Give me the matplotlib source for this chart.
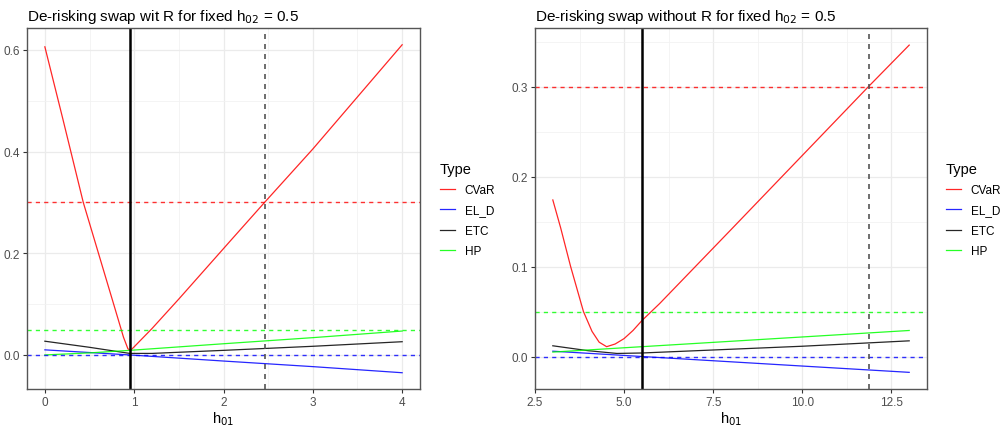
import numpy as np
import matplotlib
matplotlib.rcParams["font.family"] = ["Liberation Sans", "DejaVu Sans"]
import matplotlib.pyplot as plt
from matplotlib.ticker import MultipleLocator, FormatStrFormatter

# left panel: swap with R, h02 = 0.5
l_cvar_x = [0, 0.2, 0.43, 0.6, 0.77, 0.88, 0.93, 0.96, 1.0, 1.2, 1.5, 2.08, 2.46, 3.0, 4.0]
l_cvar_y = [0.606, 0.465, 0.30, 0.20, 0.10, 0.035, 0.012, 0.009, 0.016, 0.052, 0.110, 0.225, 0.30, 0.405, 0.61]
l_eld_x = [0, 0.95, 2, 3, 4]
l_eld_y = [0.010, 0.0, -0.012, -0.023, -0.035]
l_etc_x = [0, 0.5, 0.95, 1.2, 2, 3, 4]
l_etc_y = [0.027, 0.015, 0.003, 0.003, 0.009, 0.017, 0.026]
l_hp_x = [0, 0.5, 0.95, 2, 3, 4]
l_hp_y = [0.0, 0.004, 0.009, 0.022, 0.034, 0.047]
l_vsolid, l_vdash = 0.95, 2.46

# right panel: swap without R, h02 = 0.5
r_cvar_x = [3.0, 3.22, 3.5, 3.86, 4.1, 4.3, 4.51, 4.75, 5.0, 5.25, 5.5, 6.0, 8.0, 11.86, 13.0]
r_cvar_y = [0.174, 0.143, 0.100, 0.050, 0.028, 0.016, 0.011, 0.014, 0.020, 0.029, 0.040, 0.059, 0.141, 0.30, 0.346]
r_eld_x = [3, 5.5, 10, 13]
r_eld_y = [0.006, 0.0001, -0.0105, -0.0175]
r_etc_x = [3, 4, 4.8, 5.5, 10, 13]
r_etc_y = [0.012, 0.0065, 0.0035, 0.004, 0.0115, 0.0175]
r_hp_x = [3, 5.5, 10, 13]
r_hp_y = [0.005, 0.011, 0.0218, 0.029]
r_vsolid, r_vdash = 5.5, 11.86

# horizontal reference levels, same for both panels
h_cvar, h_hp, h_eld = 0.30, 0.05, 0.0

labels = ["CVaR", "EL_D", "ETC", "HP"]
colors = ["#FF0000", "#0000FF", "#000000", "#00FF00"]

fig = plt.figure(figsize=(10.02, 4.27), dpi=100)
ax1 = fig.add_axes([27 / 1002, 1 - 390 / 427, 393 / 1002, 361 / 427])
ax2 = fig.add_axes([535 / 1002, 1 - 390 / 427, 392 / 1002, 361 / 427])

panels = [
    (ax1, [(l_cvar_x, l_cvar_y), (l_eld_x, l_eld_y), (l_etc_x, l_etc_y), (l_hp_x, l_hp_y)],
     l_vsolid, l_vdash, (-0.2, 4.2), (-0.067, 0.643), 1, 0.2, "%g",
     "De-risking swap wit R for fixed h$_{02}$ = 0.5", 440),
    (ax2, [(r_cvar_x, r_cvar_y), (r_eld_x, r_eld_y), (r_etc_x, r_etc_y), (r_hp_x, r_hp_y)],
     r_vsolid, r_vdash, (2.5, 13.5), (-0.036, 0.365), 2.5, 0.1, "%.1f",
     "De-risking swap without R for fixed h$_{02}$ = 0.5", 946),
]

for ax, series, vs, vd, xl, yl, xmaj, ymaj, xfmt, title, legx in panels:
    ax.set_facecolor("white")
    ax.xaxis.set_major_locator(MultipleLocator(xmaj))
    ax.xaxis.set_minor_locator(MultipleLocator(xmaj / 2))
    ax.yaxis.set_major_locator(MultipleLocator(ymaj))
    ax.yaxis.set_minor_locator(MultipleLocator(ymaj / 2))
    ax.grid(which="major", color="#EBEBEB", lw=0.9)
    ax.grid(which="minor", color="#F2F2F2", lw=0.6)
    ax.set_axisbelow(True)
    handles = []
    for (xs, ys), lab, c in zip(series, labels, colors):
        h, = ax.plot(xs, ys, color=c, lw=0.9, label=lab, alpha=0.85)
        handles.append(h)
    for lvl, c in zip([h_cvar, h_hp, h_eld], ["#FF0000", "#00FF00", "#0000FF"]):
        ax.axhline(lvl, color=c, lw=1.0, ls=(0, (3, 3)), alpha=0.8)
    ax.axvline(vs, color="black", lw=1.8)
    ax.axvline(vd, color="#555555", lw=1.2, ls=(0, (3, 3)))
    ax.set_xlim(*xl)
    ax.set_ylim(*yl)
    ax.yaxis.set_major_formatter(FormatStrFormatter("%.1f"))
    ax.xaxis.set_major_formatter(FormatStrFormatter(xfmt))
    ax.tick_params(which="major", length=3, pad=2, color="#333333",
                   labelcolor="#4D4D4D", labelsize=8.5)
    ax.tick_params(which="minor", length=0)
    for s in ax.spines.values():
        s.set_color("#555555")
        s.set_linewidth(1.0)
    ax.set_xlabel("h$_{01}$", fontsize=10.5, color="black", labelpad=1)
    ax.set_title(title, loc="left", fontsize=11, pad=6)
    leg = ax.legend(handles=handles, title="Type", loc="upper left",
                    bbox_to_anchor=(legx / 1002, 1 - 163 / 427), bbox_transform=fig.transFigure,
                    frameon=False, fontsize=8.5, title_fontsize=10.5, handlelength=1.3,
                    handletextpad=0.8, labelspacing=0.7, borderaxespad=0, borderpad=0)
    leg._legend_box.align = "left"

fig.savefig("out.png", dpi=100)
